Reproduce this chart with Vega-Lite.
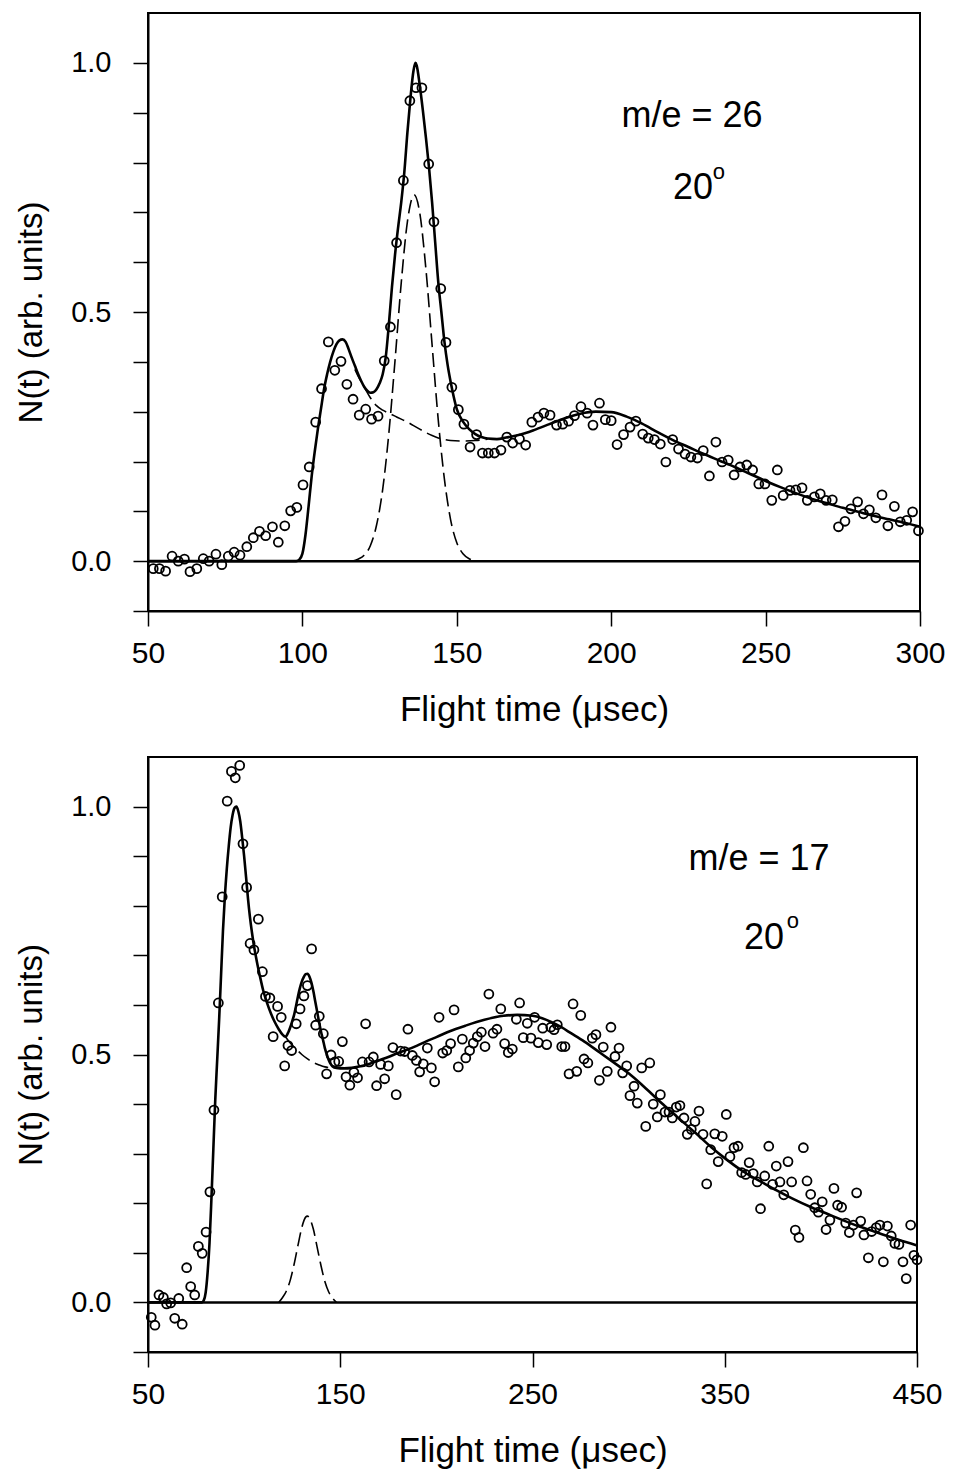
{
  "$schema": "https://vega.github.io/schema/vega-lite/v6.json",
  "padding": {"left": 14, "top": 12, "right": 30, "bottom": 5},
  "spacing": 28,
  "config": {
    "font": "Liberation Sans",
    "view": {"stroke": "black", "strokeWidth": 2},
    "axis": {
      "domainColor": "black", "domainWidth": 2, "tickColor": "black", "tickWidth": 1.5, "tickSize": 15,
      "labelColor": "black", "titleColor": "black", "grid": false, "labelFlush": false,
      "labelFont": "Liberation Sans", "titleFont": "Liberation Sans", "titleFontWeight": "normal"
    }
  },
  "datasets": {
    "pts26": [
      {"t":51.7,"n":-0.015},{"t":53.7,"n":-0.015},{"t":55.7,"n":-0.02},{"t":57.8,"n":0.01},{"t":59.8,"n":0.0},{"t":61.8,"n":0.004},{"t":63.6,"n":-0.021},{"t":65.8,"n":-0.015},{"t":67.9,"n":0.005},{"t":69.8,"n":0.0},{"t":72.0,"n":0.014},{"t":73.9,"n":-0.007},{"t":76.0,"n":0.01},{"t":77.9,"n":0.018},{"t":79.8,"n":0.012},{"t":82.0,"n":0.029},{"t":84.1,"n":0.047},{"t":86.1,"n":0.06},{"t":88.1,"n":0.051},{"t":90.3,"n":0.069},{"t":92.2,"n":0.038},{"t":94.3,"n":0.071},{"t":96.2,"n":0.101},{"t":98.2,"n":0.108},{"t":100.2,"n":0.153},{"t":102.2,"n":0.189},{"t":104.3,"n":0.279},{"t":106.2,"n":0.346},{"t":108.4,"n":0.44},{"t":110.5,"n":0.383},{"t":112.5,"n":0.401},{"t":114.4,"n":0.355},{"t":116.4,"n":0.325},{"t":118.4,"n":0.293},{"t":120.5,"n":0.305},{"t":122.4,"n":0.285},{"t":124.5,"n":0.291},{"t":126.5,"n":0.402},{"t":128.5,"n":0.47},{"t":130.5,"n":0.639},{"t":132.7,"n":0.764},{"t":134.8,"n":0.924},{"t":136.8,"n":0.95},{"t":138.7,"n":0.95},{"t":140.9,"n":0.797},{"t":142.6,"n":0.681},{"t":144.8,"n":0.547},{"t":146.5,"n":0.439},{"t":148.4,"n":0.349},{"t":150.5,"n":0.304},{"t":152.3,"n":0.275},{"t":154.3,"n":0.229},{"t":156.4,"n":0.254},{"t":158.3,"n":0.217},{"t":160.2,"n":0.217},{"t":162.2,"n":0.217},{"t":164.3,"n":0.223},{"t":166.2,"n":0.249},{"t":168.1,"n":0.237},{"t":170.3,"n":0.245},{"t":172.3,"n":0.233},{"t":174.3,"n":0.279},{"t":176.3,"n":0.289},{"t":178.2,"n":0.297},{"t":180.2,"n":0.293},{"t":182.3,"n":0.273},{"t":184.3,"n":0.275},{"t":186.2,"n":0.281},{"t":188.1,"n":0.292},{"t":190.2,"n":0.31},{"t":192.2,"n":0.297},{"t":194.1,"n":0.273},{"t":196.2,"n":0.317},{"t":198.1,"n":0.284},{"t":200.0,"n":0.282},{"t":201.9,"n":0.234},{"t":204.0,"n":0.254},{"t":206.1,"n":0.269},{"t":208.0,"n":0.281},{"t":210.2,"n":0.255},{"t":212.0,"n":0.247},{"t":214.0,"n":0.244},{"t":215.9,"n":0.235},{"t":217.7,"n":0.199},{"t":219.9,"n":0.244},{"t":221.8,"n":0.225},{"t":223.9,"n":0.215},{"t":225.8,"n":0.209},{"t":227.9,"n":0.207},{"t":229.8,"n":0.222},{"t":231.8,"n":0.171},{"t":233.9,"n":0.239},{"t":235.9,"n":0.199},{"t":237.9,"n":0.203},{"t":239.8,"n":0.173},{"t":241.7,"n":0.189},{"t":243.9,"n":0.193},{"t":245.8,"n":0.183},{"t":247.8,"n":0.155},{"t":249.8,"n":0.155},{"t":252.0,"n":0.122},{"t":253.8,"n":0.183},{"t":255.7,"n":0.132},{"t":257.9,"n":0.142},{"t":259.8,"n":0.143},{"t":261.8,"n":0.147},{"t":263.5,"n":0.122},{"t":265.8,"n":0.129},{"t":267.7,"n":0.135},{"t":269.6,"n":0.122},{"t":271.6,"n":0.123},{"t":273.6,"n":0.069},{"t":275.7,"n":0.08},{"t":277.6,"n":0.105},{"t":279.8,"n":0.119},{"t":281.7,"n":0.095},{"t":283.6,"n":0.103},{"t":285.7,"n":0.087},{"t":287.7,"n":0.133},{"t":289.6,"n":0.071},{"t":291.7,"n":0.11},{"t":293.6,"n":0.079},{"t":295.7,"n":0.082},{"t":297.6,"n":0.099},{"t":299.5,"n":0.061}
    ],
    "fit26": [
      {"t":50,"n":0},{"t":98,"n":0},{"t":99,"n":0.003},{"t":100,"n":0.015},{"t":101,"n":0.053},{"t":102,"n":0.11},{"t":103,"n":0.17},{"t":104,"n":0.22},{"t":105,"n":0.265},{"t":106,"n":0.305},{"t":107,"n":0.345},{"t":108,"n":0.375},{"t":109,"n":0.4},{"t":110,"n":0.42},{"t":111,"n":0.435},{"t":112,"n":0.443},{"t":113,"n":0.445},{"t":114,"n":0.44},{"t":115,"n":0.425},{"t":116,"n":0.408},{"t":117,"n":0.392},{"t":118,"n":0.376},{"t":119,"n":0.362},{"t":120,"n":0.35},{"t":121,"n":0.342},{"t":122,"n":0.338},{"t":123,"n":0.339},{"t":124,"n":0.345},{"t":125,"n":0.357},{"t":126,"n":0.375},{"t":127,"n":0.41},{"t":128,"n":0.475},{"t":129,"n":0.55},{"t":130,"n":0.615},{"t":131,"n":0.67},{"t":132,"n":0.72},{"t":133,"n":0.78},{"t":134,"n":0.86},{"t":135,"n":0.93},{"t":136,"n":0.985},{"t":136.6,"n":1.0},{"t":137,"n":0.995},{"t":138,"n":0.955},{"t":139,"n":0.905},{"t":140,"n":0.85},{"t":141,"n":0.79},{"t":142,"n":0.72},{"t":143,"n":0.64},{"t":144,"n":0.56},{"t":145,"n":0.5},{"t":146,"n":0.44},{"t":147,"n":0.395},{"t":148,"n":0.36},{"t":149,"n":0.33},{"t":150,"n":0.305},{"t":152,"n":0.28},{"t":154,"n":0.265},{"t":156,"n":0.255},{"t":158,"n":0.249},{"t":160,"n":0.246},{"t":163,"n":0.245},{"t":166,"n":0.248},{"t":170,"n":0.253},{"t":175,"n":0.263},{"t":180,"n":0.275},{"t":185,"n":0.287},{"t":190,"n":0.296},{"t":195,"n":0.3},{"t":200,"n":0.299},{"t":205,"n":0.29},{"t":210,"n":0.276},{"t":215,"n":0.259},{"t":220,"n":0.243},{"t":225,"n":0.229},{"t":230,"n":0.215},{"t":235,"n":0.202},{"t":240,"n":0.189},{"t":245,"n":0.175},{"t":250,"n":0.161},{"t":255,"n":0.148},{"t":260,"n":0.136},{"t":265,"n":0.125},{"t":270,"n":0.116},{"t":275,"n":0.107},{"t":280,"n":0.099},{"t":285,"n":0.091},{"t":290,"n":0.084},{"t":295,"n":0.077},{"t":300,"n":0.069}
    ],
    "bg26": [
      {"t":117,"n":0.385},{"t":118,"n":0.372},{"t":120,"n":0.35},{"t":122,"n":0.328},{"t":124,"n":0.312},{"t":126,"n":0.303},{"t":128,"n":0.297},{"t":130,"n":0.291},{"t":132,"n":0.285},{"t":134,"n":0.279},{"t":136,"n":0.272},{"t":138,"n":0.265},{"t":140,"n":0.258},{"t":142,"n":0.252},{"t":144,"n":0.247},{"t":146,"n":0.244},{"t":148,"n":0.242},{"t":152,"n":0.241},{"t":156,"n":0.242},{"t":160,"n":0.245}
    ],
    "g26": [
      {"t":116,"n":0},{"t":118,"n":0.004},{"t":120,"n":0.012},{"t":122,"n":0.031},{"t":124,"n":0.072},{"t":126,"n":0.144},{"t":128,"n":0.257},{"t":130,"n":0.403},{"t":132,"n":0.558},{"t":134,"n":0.681},{"t":136.2,"n":0.735},{"t":138,"n":0.699},{"t":140,"n":0.586},{"t":142,"n":0.434},{"t":144,"n":0.283},{"t":146,"n":0.164},{"t":148,"n":0.083},{"t":150,"n":0.037},{"t":152,"n":0.015},{"t":154,"n":0.005},{"t":157,"n":0}
    ],
    "zero26": [{"t":50,"n":0},{"t":300,"n":0}],
    "lab26": [{"t":226.2,"n":0.894,"txt":"m/e  =  26"},{"t":226.5,"n":0.748,"txt":"20"}],
    "sup26": [{"t":234.9,"n":0.78,"txt":"o"}],
    "pts17": [
      {"t":51.7,"n":-0.03},{"t":53.6,"n":-0.046},{"t":55.7,"n":0.015},{"t":58.0,"n":0.01},{"t":59.7,"n":-0.003},{"t":61.8,"n":-0.001},{"t":63.9,"n":-0.032},{"t":66.0,"n":0.008},{"t":67.8,"n":-0.044},{"t":70.1,"n":0.07},{"t":72.2,"n":0.032},{"t":74.3,"n":0.015},{"t":76.2,"n":0.113},{"t":78.2,"n":0.099},{"t":80.2,"n":0.142},{"t":82.2,"n":0.223},{"t":84.3,"n":0.388},{"t":86.6,"n":0.604},{"t":88.6,"n":0.818},{"t":91.2,"n":1.011},{"t":93.4,"n":1.071},{"t":95.4,"n":1.058},{"t":97.7,"n":1.083},{"t":99.4,"n":0.925},{"t":101.3,"n":0.837},{"t":103.1,"n":0.724},{"t":105.1,"n":0.711},{"t":107.4,"n":0.773},{"t":109.5,"n":0.667},{"t":111.1,"n":0.617},{"t":113.4,"n":0.614},{"t":115.1,"n":0.536},{"t":117.4,"n":0.597},{"t":119.3,"n":0.575},{"t":121.1,"n":0.477},{"t":122.8,"n":0.518},{"t":124.7,"n":0.508},{"t":127.1,"n":0.562},{"t":129.1,"n":0.592},{"t":131.1,"n":0.618},{"t":132.9,"n":0.639},{"t":135.1,"n":0.713},{"t":137.2,"n":0.559},{"t":139.1,"n":0.577},{"t":141.2,"n":0.542},{"t":142.9,"n":0.461},{"t":145.2,"n":0.499},{"t":147.2,"n":0.485},{"t":149.2,"n":0.486},{"t":151.1,"n":0.526},{"t":153.0,"n":0.455},{"t":155.0,"n":0.438},{"t":157.1,"n":0.464},{"t":159.0,"n":0.453},{"t":161.5,"n":0.485},{"t":163.2,"n":0.562},{"t":165.0,"n":0.485},{"t":167.2,"n":0.495},{"t":168.9,"n":0.437},{"t":171.0,"n":0.48},{"t":173.1,"n":0.451},{"t":175.0,"n":0.477},{"t":177.4,"n":0.514},{"t":179.1,"n":0.419},{"t":181.4,"n":0.507},{"t":183.5,"n":0.506},{"t":185.2,"n":0.551},{"t":187.5,"n":0.498},{"t":189.6,"n":0.488},{"t":191.3,"n":0.465},{"t":193.2,"n":0.481},{"t":195.3,"n":0.513},{"t":197.4,"n":0.473},{"t":199.1,"n":0.445},{"t":201.4,"n":0.575},{"t":203.3,"n":0.503},{"t":205.4,"n":0.508},{"t":207.4,"n":0.522},{"t":209.2,"n":0.59},{"t":211.4,"n":0.475},{"t":213.5,"n":0.531},{"t":215.3,"n":0.493},{"t":217.3,"n":0.508},{"t":219.2,"n":0.523},{"t":221.3,"n":0.536},{"t":223.4,"n":0.545},{"t":225.3,"n":0.516},{"t":227.3,"n":0.622},{"t":229.5,"n":0.543},{"t":231.5,"n":0.551},{"t":233.5,"n":0.592},{"t":235.5,"n":0.522},{"t":237.4,"n":0.504},{"t":239.5,"n":0.511},{"t":241.6,"n":0.571},{"t":243.3,"n":0.604},{"t":245.2,"n":0.534},{"t":247.3,"n":0.563},{"t":249.2,"n":0.533},{"t":251.1,"n":0.575},{"t":253.0,"n":0.524},{"t":255.3,"n":0.553},{"t":257.4,"n":0.52},{"t":259.5,"n":0.555},{"t":261.2,"n":0.55},{"t":262.9,"n":0.56},{"t":265.2,"n":0.516},{"t":266.9,"n":0.516},{"t":269.0,"n":0.461},{"t":271.1,"n":0.602},{"t":273.0,"n":0.466},{"t":275.1,"n":0.579},{"t":276.8,"n":0.491},{"t":278.8,"n":0.483},{"t":281.1,"n":0.533},{"t":283.0,"n":0.54},{"t":284.8,"n":0.448},{"t":286.8,"n":0.515},{"t":288.9,"n":0.466},{"t":290.8,"n":0.555},{"t":292.9,"n":0.496},{"t":295.0,"n":0.513},{"t":296.9,"n":0.463},{"t":299.0,"n":0.477},{"t":300.7,"n":0.417},{"t":302.8,"n":0.436},{"t":304.5,"n":0.402},{"t":306.8,"n":0.473},{"t":308.9,"n":0.355},{"t":311.0,"n":0.483},{"t":312.8,"n":0.4},{"t":314.9,"n":0.374},{"t":316.5,"n":0.419},{"t":318.9,"n":0.384},{"t":321.0,"n":0.384},{"t":322.7,"n":0.372},{"t":324.8,"n":0.394},{"t":326.7,"n":0.397},{"t":328.8,"n":0.372},{"t":330.5,"n":0.339},{"t":332.6,"n":0.349},{"t":334.5,"n":0.365},{"t":336.6,"n":0.386},{"t":338.7,"n":0.339},{"t":340.6,"n":0.239},{"t":342.7,"n":0.308},{"t":344.8,"n":0.34},{"t":346.6,"n":0.284},{"t":348.7,"n":0.335},{"t":350.8,"n":0.379},{"t":352.7,"n":0.294},{"t":354.8,"n":0.312},{"t":356.9,"n":0.315},{"t":358.8,"n":0.262},{"t":360.9,"n":0.258},{"t":362.7,"n":0.282},{"t":364.8,"n":0.26},{"t":366.9,"n":0.243},{"t":368.6,"n":0.189},{"t":370.8,"n":0.255},{"t":372.9,"n":0.315},{"t":374.9,"n":0.238},{"t":376.8,"n":0.275},{"t":378.7,"n":0.243},{"t":380.7,"n":0.217},{"t":382.9,"n":0.284},{"t":384.8,"n":0.243},{"t":386.7,"n":0.146},{"t":388.6,"n":0.131},{"t":390.9,"n":0.312},{"t":392.8,"n":0.245},{"t":394.7,"n":0.218},{"t":396.8,"n":0.191},{"t":398.7,"n":0.182},{"t":400.7,"n":0.203},{"t":402.7,"n":0.147},{"t":404.7,"n":0.166},{"t":406.8,"n":0.23},{"t":408.7,"n":0.196},{"t":410.8,"n":0.192},{"t":412.9,"n":0.16},{"t":414.8,"n":0.141},{"t":416.9,"n":0.156},{"t":418.6,"n":0.221},{"t":420.7,"n":0.164},{"t":422.4,"n":0.136},{"t":424.7,"n":0.09},{"t":426.4,"n":0.143},{"t":428.8,"n":0.151},{"t":430.7,"n":0.156},{"t":432.5,"n":0.082},{"t":434.6,"n":0.154},{"t":436.6,"n":0.134},{"t":438.5,"n":0.119},{"t":440.6,"n":0.117},{"t":442.7,"n":0.082},{"t":444.4,"n":0.048},{"t":446.7,"n":0.156},{"t":448.4,"n":0.095},{"t":450.0,"n":0.086}
    ],
    "fit17": [
      {"t":50,"n":0},{"t":78,"n":0},{"t":79,"n":0.004},{"t":80,"n":0.02},{"t":81,"n":0.06},{"t":82,"n":0.12},{"t":83,"n":0.21},{"t":84,"n":0.31},{"t":85,"n":0.41},{"t":86,"n":0.49},{"t":87,"n":0.57},{"t":88,"n":0.66},{"t":89,"n":0.75},{"t":90,"n":0.82},{"t":91,"n":0.875},{"t":92,"n":0.92},{"t":93,"n":0.958},{"t":94,"n":0.983},{"t":95,"n":0.997},{"t":96,"n":1.0},{"t":97,"n":0.99},{"t":98,"n":0.97},{"t":99,"n":0.937},{"t":100,"n":0.9},{"t":101,"n":0.858},{"t":102,"n":0.815},{"t":103,"n":0.778},{"t":104,"n":0.748},{"t":105,"n":0.722},{"t":106,"n":0.7},{"t":107,"n":0.68},{"t":108,"n":0.662},{"t":110,"n":0.628},{"t":112,"n":0.603},{"t":114,"n":0.582},{"t":116,"n":0.565},{"t":118,"n":0.551},{"t":120,"n":0.54},{"t":121.5,"n":0.536},{"t":123,"n":0.545},{"t":124,"n":0.555},{"t":125,"n":0.567},{"t":126,"n":0.58},{"t":127,"n":0.598},{"t":128,"n":0.617},{"t":129,"n":0.634},{"t":130,"n":0.647},{"t":131,"n":0.656},{"t":132,"n":0.662},{"t":133,"n":0.663},{"t":134,"n":0.657},{"t":135,"n":0.645},{"t":136,"n":0.628},{"t":137,"n":0.607},{"t":138,"n":0.586},{"t":139,"n":0.565},{"t":140,"n":0.546},{"t":141,"n":0.53},{"t":142,"n":0.513},{"t":143,"n":0.5},{"t":144,"n":0.489},{"t":145,"n":0.481},{"t":146,"n":0.476},{"t":148,"n":0.473},{"t":152,"n":0.472},{"t":156,"n":0.473},{"t":160,"n":0.476},{"t":165,"n":0.481},{"t":170,"n":0.488},{"t":175,"n":0.495},{"t":180,"n":0.503},{"t":185,"n":0.51},{"t":190,"n":0.518},{"t":195,"n":0.527},{"t":200,"n":0.535},{"t":207,"n":0.547},{"t":215,"n":0.558},{"t":225,"n":0.57},{"t":235,"n":0.578},{"t":242,"n":0.58},{"t":250,"n":0.578},{"t":255,"n":0.573},{"t":260,"n":0.565},{"t":265,"n":0.555},{"t":270,"n":0.543},{"t":277,"n":0.526},{"t":285,"n":0.504},{"t":294,"n":0.479},{"t":300,"n":0.462},{"t":308,"n":0.435},{"t":318,"n":0.399},{"t":325,"n":0.375},{"t":335,"n":0.341},{"t":343,"n":0.313},{"t":350,"n":0.291},{"t":360,"n":0.263},{"t":370,"n":0.241},{"t":377,"n":0.226},{"t":385,"n":0.21},{"t":395,"n":0.192},{"t":405,"n":0.176},{"t":412,"n":0.165},{"t":420,"n":0.153},{"t":430,"n":0.14},{"t":440,"n":0.127},{"t":450,"n":0.115}
    ],
    "bg17": [
      {"t":121.5,"n":0.536},{"t":124,"n":0.523},{"t":127,"n":0.511},{"t":130,"n":0.5},{"t":133,"n":0.491},{"t":136,"n":0.484},{"t":139,"n":0.479},{"t":142,"n":0.475},{"t":146,"n":0.473}
    ],
    "g17": [
      {"t":118,"n":0},{"t":120,"n":0.01},{"t":122,"n":0.023},{"t":124,"n":0.045},{"t":126,"n":0.077},{"t":128,"n":0.115},{"t":130,"n":0.151},{"t":132,"n":0.172},{"t":132.9,"n":0.174},{"t":134,"n":0.17},{"t":136,"n":0.148},{"t":138,"n":0.111},{"t":140,"n":0.074},{"t":142,"n":0.042},{"t":144,"n":0.021},{"t":146,"n":0.009},{"t":148,"n":0}
    ],
    "zero17": [{"t":50,"n":0},{"t":450,"n":0}],
    "lab17": [{"t":367.8,"n":0.894,"txt":"m/e  =  17"},{"t":370.4,"n":0.735,"txt":"20"}],
    "sup17": [{"t":385.5,"n":0.769,"txt":"o"}]
  },
  "vconcat": [
    {
      "width": 772,
      "height": 598,
      "encoding": {
        "x": {"field": "t", "type": "quantitative",
          "scale": {"domain": [50, 300], "nice": false, "zero": false},
          "axis": {"values": [50, 100, 150, 200, 250, 300], "title": "Flight time (μsec)", "labelFontSize": 30, "labelPadding": 12, "titleFontSize": 35, "titlePadding": 24}},
        "y": {"field": "n", "type": "quantitative",
          "scale": {"domain": [-0.1, 1.1], "nice": false, "zero": false},
          "axis": {"values": [-0.1, 0, 0.1, 0.2, 0.3, 0.4, 0.5, 0.6, 0.7, 0.8, 0.9, 1.0],
            "labelExpr": "(abs(datum.value) < 0.001 || abs(datum.value - 0.5) < 0.001 || abs(datum.value - 1) < 0.001) ? format(datum.value, '.1f') : ''",
            "title": "N(t) (arb. units)", "labelFontSize": 29, "labelPadding": 22, "titleFontSize": 33, "titlePadding": 22}}
      },
      "layer": [
        {"data": {"name": "zero26"}, "mark": {"type": "line", "color": "black", "strokeWidth": 2.5}},
        {"data": {"name": "g26"}, "mark": {"type": "line", "color": "black", "strokeWidth": 1.6, "strokeDash": [14, 6], "interpolate": "monotone"}},
        {"data": {"name": "bg26"}, "mark": {"type": "line", "color": "black", "strokeWidth": 1.6, "strokeDash": [14, 6], "interpolate": "monotone"}},
        {"data": {"name": "fit26"}, "mark": {"type": "line", "color": "black", "strokeWidth": 2.6, "interpolate": "monotone"}},
        {"data": {"name": "pts26"}, "mark": {"type": "point", "shape": "circle", "filled": false, "color": "black", "size": 80, "strokeWidth": 1.8, "opacity": 1}},
        {"data": {"name": "lab26"}, "mark": {"type": "text", "fontSize": 36, "align": "center", "baseline": "middle", "color": "black"}, "encoding": {"text": {"field": "txt"}}},
        {"data": {"name": "sup26"}, "mark": {"type": "text", "fontSize": 22, "align": "center", "baseline": "middle", "color": "black"}, "encoding": {"text": {"field": "txt"}}}
      ]
    },
    {
      "width": 769,
      "height": 595,
      "encoding": {
        "x": {"field": "t", "type": "quantitative",
          "scale": {"domain": [50, 450], "nice": false, "zero": false},
          "axis": {"values": [50, 150, 250, 350, 450], "title": "Flight time (μsec)", "labelFontSize": 30, "labelPadding": 12, "titleFontSize": 35, "titlePadding": 24}},
        "y": {"field": "n", "type": "quantitative",
          "scale": {"domain": [-0.1, 1.1], "nice": false, "zero": false},
          "axis": {"values": [-0.1, 0, 0.1, 0.2, 0.3, 0.4, 0.5, 0.6, 0.7, 0.8, 0.9, 1.0],
            "labelExpr": "(abs(datum.value) < 0.001 || abs(datum.value - 0.5) < 0.001 || abs(datum.value - 1) < 0.001) ? format(datum.value, '.1f') : ''",
            "title": "N(t) (arb. units)", "labelFontSize": 29, "labelPadding": 22, "titleFontSize": 33, "titlePadding": 22}}
      },
      "layer": [
        {"data": {"name": "zero17"}, "mark": {"type": "line", "color": "black", "strokeWidth": 2.5}},
        {"data": {"name": "g17"}, "mark": {"type": "line", "color": "black", "strokeWidth": 1.6, "strokeDash": [14, 6], "interpolate": "monotone"}},
        {"data": {"name": "bg17"}, "mark": {"type": "line", "color": "black", "strokeWidth": 1.6, "strokeDash": [14, 6], "interpolate": "monotone"}},
        {"data": {"name": "fit17"}, "mark": {"type": "line", "color": "black", "strokeWidth": 2.6, "interpolate": "monotone"}},
        {"data": {"name": "pts17"}, "mark": {"type": "point", "shape": "circle", "filled": false, "color": "black", "size": 80, "strokeWidth": 1.8, "opacity": 1}},
        {"data": {"name": "lab17"}, "mark": {"type": "text", "fontSize": 36, "align": "center", "baseline": "middle", "color": "black"}, "encoding": {"text": {"field": "txt"}}},
        {"data": {"name": "sup17"}, "mark": {"type": "text", "fontSize": 22, "align": "center", "baseline": "middle", "color": "black"}, "encoding": {"text": {"field": "txt"}}}
      ]
    }
  ]
}
